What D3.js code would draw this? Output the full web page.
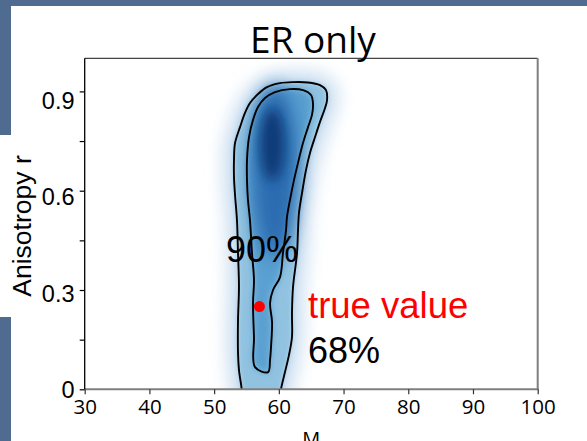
<!DOCTYPE html>
<html><head><meta charset="utf-8">
<script src="https://cdn.jsdelivr.net/npm/d3@7"></script>
<style>html,body{margin:0;padding:0;background:#fff;overflow:hidden}</style>
</head><body>
<svg id="c" width="587" height="441"></svg>
<script>
// ---------- data ----------
const title = "ER only";
const xLabel = "M";
const yLabel = "Anisotropy r";
const xTicks = [30, 40, 50, 60, 70, 80, 90, 100];
const yMajorTicks = [0, 0.3, 0.6, 0.9];
const yTickLabels = ["0", "0.3", "0.6", "0.9"];
const yMinorTicks = [0.15, 0.45, 0.75];
// 90% credible contour (M, r)
const contour90 = [
  [54.31,-0.03],[54.26,0.0],[53.84,0.058],[53.69,0.110],[53.69,0.209],[53.84,0.309],
  [53.69,0.412],[53.53,0.511],[53.23,0.587],[53.07,0.641],[53.07,0.693],[53.23,0.744],
  [54.0,0.792],[54.77,0.835],[55.54,0.865],[56.78,0.892],[58.17,0.913],[60.18,0.925],
  [62.19,0.928],[64.51,0.927],[66.36,0.919],[67.29,0.904],[67.45,0.874],[67.14,0.850],
  [66.36,0.808],[65.59,0.762],[64.81,0.714],[64.20,0.663],[63.58,0.593],[63.11,0.533],
  [62.96,0.481],[62.81,0.412],[62.19,0.309],[62.03,0.231],[62.03,0.158],[61.57,0.104],
  [60.95,0.052],[60.33,0.0],[60.18,-0.03]
];
// 68% credible contour (M, r)
const contour68 = [
  [56.32,0.067],[56.16,0.158],[56.01,0.261],[56.16,0.330],[55.85,0.412],[55.54,0.511],
  [55.23,0.572],[55.08,0.632],[55.08,0.693],[55.39,0.762],[56.01,0.814],[56.78,0.853],
  [57.86,0.880],[59.41,0.898],[61.72,0.907],[63.73,0.904],[64.97,0.889],[65.28,0.862],
  [65.12,0.829],[64.51,0.792],[63.73,0.744],[62.96,0.684],[62.34,0.632],[61.72,0.572],
  [61.26,0.521],[61.11,0.481],[60.64,0.412],[60.18,0.339],[59.10,0.300],[58.64,0.261],
  [58.95,0.203],[58.79,0.128],[58.64,0.089],[58.33,0.052]
];
// high-density modes of the posterior (centre and spread, data units)
const kdeModes = [
  {M: 59.4, r: 0.66, sdM: 3.5, sdR: 0.26},
  {M: 59.0, r: 0.74, sdM: 1.9, sdR: 0.11}
];
const trueValue = {M: 57.0, r: 0.25, label: "true value"};
const levelLabels = [
  {text: "90%", M: 51.83, r: 0.385},
  {text: "68%", M: 64.51, r: 0.079}
];
const trueLabelPos = {M: 64.51, r: 0.215};

// ---------- layout ----------
const svg = d3.select("#c");
const L = 84.7, R = 537.7, T = 58.3, B = 389.3;
const x = d3.scaleLinear().domain([30, 100]).range([L, R]);
const y = d3.scaleLinear().domain([0, 1]).range([B, T]);
const yLab = d3.scaleLinear().domain([0, 0.9]).range([389.3, 101]);

// slide decorations
const slideBlue = "#4f6b8f";
svg.append("rect").attr("x",0).attr("y",0).attr("width",587).attr("height",6).attr("fill",slideBlue);
svg.append("rect").attr("x",0).attr("y",0).attr("width",11).attr("height",135).attr("fill",slideBlue);
svg.append("rect").attr("x",0).attr("y",317).attr("width",11).attr("height",124).attr("fill",slideBlue);

const defs = svg.append("defs");
defs.append("clipPath").attr("id","plotclip").append("rect")
  .attr("x",L).attr("y",T).attr("width",R-L).attr("height",B-T);
function blur(id, sd){
  defs.append("filter").attr("id",id).attr("x","-50%").attr("y","-50%").attr("width","200%").attr("height","200%")
    .append("feGaussianBlur").attr("stdDeviation",sd);
}
blur("b8",9); blur("b3",2.5); blur("b4",3.5); blur("b10",9); blur("b6",6);

const line = d3.line().x(d=>x(d[0])).y(d=>y(d[1])).curve(d3.curveCatmullRomClosed.alpha(0.5));

const g = svg.append("g").attr("clip-path","url(#plotclip)");
// halo
g.append("path").datum(contour90).attr("d",line).attr("fill","#c6dbef")
  .attr("stroke","#c6dbef").attr("stroke-width",20).attr("stroke-linejoin","round").attr("filter","url(#b8)");
// band between contours
g.append("path").datum(contour90).attr("d",line).attr("fill","#91c2e0").attr("filter","url(#b3)");
// inner region
g.append("path").datum(contour68).attr("d",line).attr("fill","#5aa0d1").attr("filter","url(#b4)");
// modes
const modeColors = ["#2a6cb0", "#0a3a78"];
const modeFilters = ["url(#b10)", "url(#b6)"];
kdeModes.forEach((m,i)=>{
  g.append("ellipse").attr("cx",x(m.M)).attr("cy",y(m.r))
   .attr("rx",x(m.M+m.sdM)-x(m.M)).attr("ry",y(m.r)-y(m.r+m.sdR))
   .attr("fill",modeColors[i]).attr("filter",modeFilters[i]);
});
// contour lines
[contour90, contour68].forEach(c=>{
  g.append("path").datum(c).attr("d",line).attr("fill","none").attr("stroke","#000").attr("stroke-width",1.9);
});

// spines
svg.append("line").attr("x1",L).attr("x2",R).attr("y1",T).attr("y2",T).attr("stroke","#444").attr("stroke-width",1.2);
svg.append("line").attr("x1",R).attr("x2",R).attr("y1",T).attr("y2",B).attr("stroke","#7f7f7f").attr("stroke-width",2);
svg.append("line").attr("x1",L).attr("x2",R+1).attr("y1",B).attr("y2",B).attr("stroke","#7f7f7f").attr("stroke-width",2);
svg.append("line").attr("x1",L).attr("x2",L).attr("y1",T).attr("y2",B).attr("stroke","#000").attr("stroke-width",1.3);

// x axis
const xAxis = d3.axisBottom(x).tickValues(xTicks).tickSize(5).tickPadding(3).tickFormat(d3.format("d"));
const xg = svg.append("g").attr("transform",`translate(0,${B})`).call(xAxis);
xg.select(".domain").remove();
xg.selectAll(".tick line").attr("stroke","#333").attr("stroke-width",1.2);
xg.selectAll(".tick text").attr("font-family","'Open Sans'").attr("font-size",20.5).attr("fill","#000")
  .attr("dy",null).attr("y",24.4);

// y axis ticks
const yAxis = d3.axisLeft(y).tickValues(yMajorTicks.concat(yMinorTicks)).tickSize(5).tickFormat("");
const yg = svg.append("g").attr("transform",`translate(${L},0)`).call(yAxis);
yg.select(".domain").remove();
yg.selectAll(".tick line").attr("stroke","#000").attr("stroke-width",1.2);
// y tick labels
svg.append("g").selectAll("text").data(yMajorTicks).join("text")
  .attr("x",74.5).attr("y",d=>yLab(d)+8.3).attr("text-anchor","end")
  .attr("font-family","'Liberation Sans', Arial").attr("font-size",23.5).attr("fill","#000")
  .text((d,i)=>yTickLabels[i]);

// axis titles
svg.append("text").attr("x",(L+R)/2).attr("y",446).attr("text-anchor","middle")
  .attr("font-family","'Open Sans'").attr("font-size",20).text(xLabel);
svg.append("text").attr("transform","translate(31,226) rotate(-90)").attr("text-anchor","middle")
  .attr("font-family","'Liberation Sans', Arial").attr("font-size",26.5).text(yLabel);
// title
svg.append("text").attr("x",313).attr("y",53.3).attr("text-anchor","middle")
  .attr("font-family","'Open Sans'").attr("font-size",37).text(title);

// annotations
svg.append("g").selectAll("text").data(levelLabels).join("text")
  .attr("x",d=>x(d.M)).attr("y",d=>y(d.r))
  .attr("font-family","'Liberation Sans', Arial").attr("font-size",36).attr("fill","#000")
  .text(d=>d.text);
svg.append("text").attr("x",x(trueLabelPos.M)).attr("y",y(trueLabelPos.r))
  .attr("font-family","'Liberation Sans', Arial").attr("font-size",36.5).attr("fill","#ff0000")
  .text(trueValue.label);
svg.append("circle").attr("cx",x(trueValue.M)).attr("cy",y(trueValue.r)).attr("r",5.5).attr("fill","#ff0000");
</script>
</body></html>
